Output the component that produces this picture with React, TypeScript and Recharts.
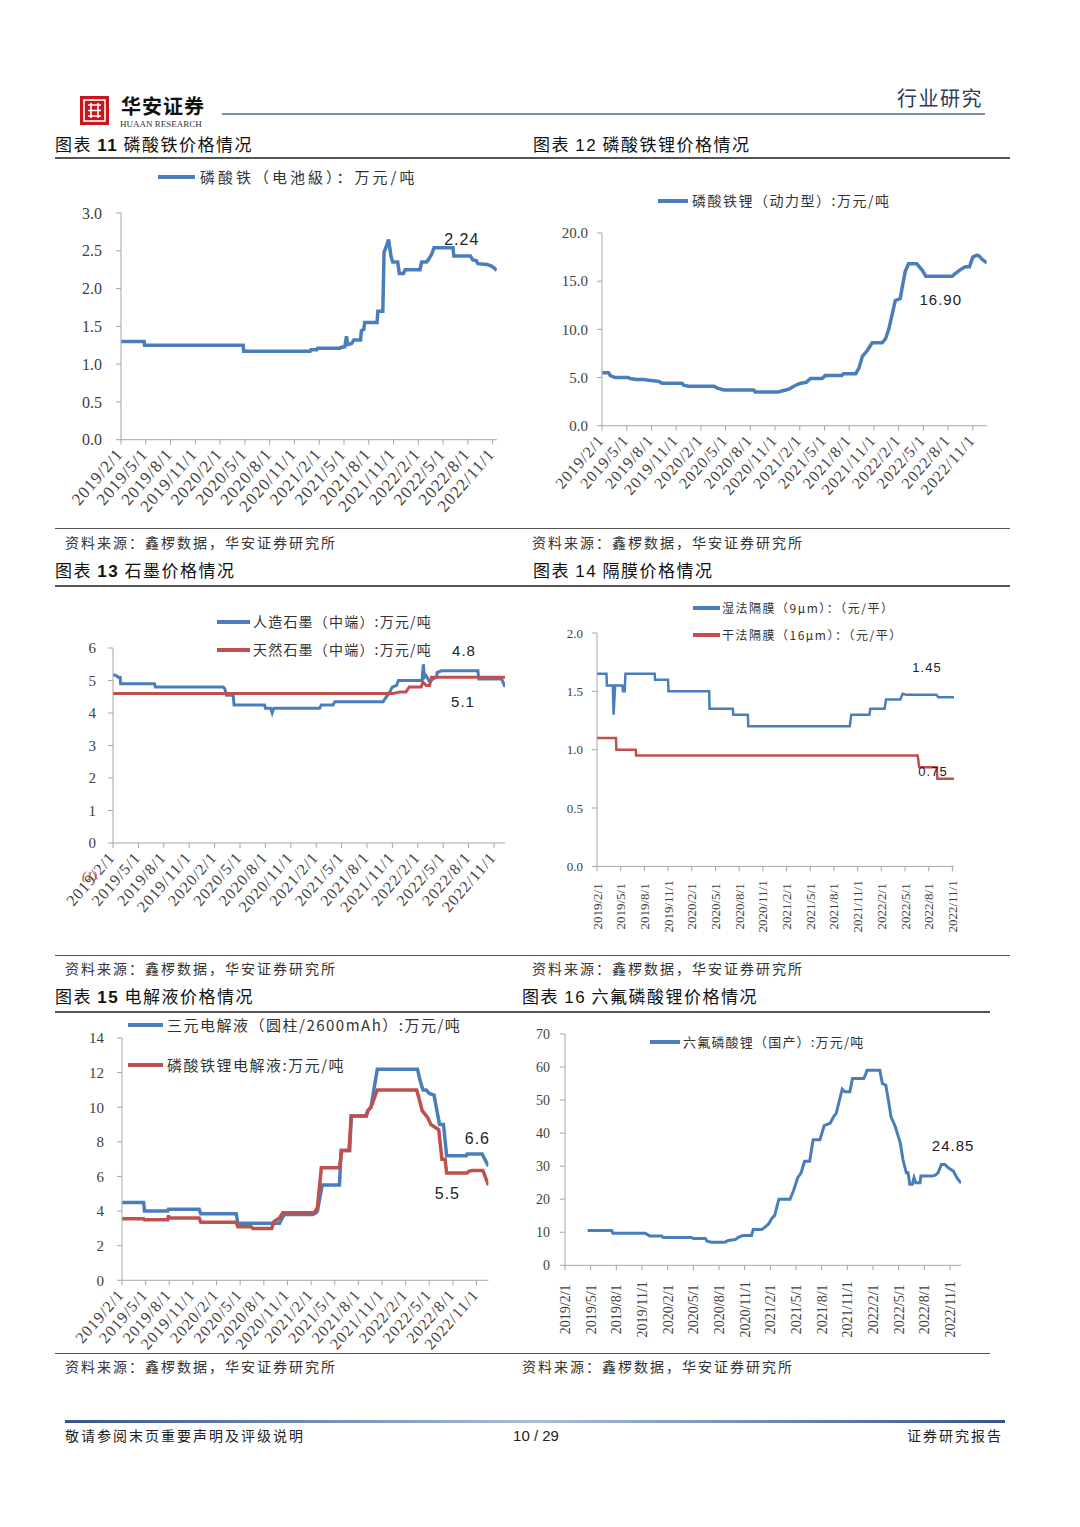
import React from "react"
import { Line, LineChart, XAxis, YAxis } from "recharts"

// x values are months counted from 2019/2/1
const dateTicks = [
  "2019/2/1", "2019/5/1", "2019/8/1", "2019/11/1",
  "2020/2/1", "2020/5/1", "2020/8/1", "2020/11/1",
  "2021/2/1", "2021/5/1", "2021/8/1", "2021/11/1",
  "2022/2/1", "2022/5/1", "2022/8/1", "2022/11/1",
]
const tickMonths = dateTicks.map((_, i) => i * 3)

// 图表11 磷酸铁
const fePo4Month = [0, 2.8, 2.85, 14.8, 14.85, 22.9, 23.0, 23.7, 23.8, 26.5, 26.6, 27.1, 27.3, 27.45, 27.9, 28.2, 29.0, 29.1, 29.4, 29.5, 31.0, 31.1, 31.7, 31.85, 32.1, 32.4, 32.7, 32.9, 33.5, 33.7, 34.2, 34.4, 36.2, 36.4, 37.0, 37.2, 37.6, 37.9, 40.2, 40.3, 42.3, 42.6, 43.0, 43.2, 44.3, 44.8, 45.1, 45.5]
const fePo4Price = [1.30, 1.30, 1.25, 1.25, 1.17, 1.17, 1.19, 1.19, 1.21, 1.21, 1.22, 1.23, 1.37, 1.26, 1.27, 1.32, 1.32, 1.44, 1.46, 1.55, 1.55, 1.70, 1.70, 2.48, 2.55, 2.65, 2.42, 2.35, 2.35, 2.20, 2.20, 2.25, 2.25, 2.35, 2.35, 2.38, 2.45, 2.54, 2.54, 2.43, 2.43, 2.38, 2.37, 2.33, 2.32, 2.30, 2.28, 2.24]

// 图表12 磷酸铁锂
const lfpMonth = [0, 0.8, 1.0, 1.6, 3.2, 3.4, 4.2, 5.0, 5.9, 6.9, 7.3, 9.7, 9.9, 10.5, 13.6, 14.0, 14.8, 18.4, 18.6, 21.4, 21.8, 22.3, 22.7, 23.5, 24.1, 24.8, 25.3, 26.7, 27.1, 29.1, 29.3, 30.8, 31.2, 31.6, 32.2, 32.8, 34.0, 34.4, 34.8, 35.6, 36.2, 36.4, 36.8, 37.2, 38.2, 38.9, 39.3, 42.5, 42.9, 43.5, 44.1, 44.6, 45.0, 45.5, 45.8, 46.1, 46.7]
const lfpPrice = [5.5, 5.5, 5.2, 5.0, 5.0, 4.9, 4.8, 4.8, 4.7, 4.6, 4.4, 4.4, 4.2, 4.1, 4.1, 3.9, 3.7, 3.7, 3.5, 3.5, 3.6, 3.7, 3.8, 4.2, 4.4, 4.5, 4.9, 4.9, 5.2, 5.2, 5.4, 5.4, 6.0, 7.2, 7.8, 8.6, 8.6, 9.0, 10.0, 13.0, 13.2, 14.2, 16.0, 16.8, 16.8, 16.1, 15.5, 15.5, 15.8, 16.2, 16.5, 16.5, 17.5, 17.7, 17.6, 17.3, 16.9]

// 图表13 石墨
const artGraphiteMonth = [0, 0.4, 0.6, 0.85, 0.9, 4.9, 5.0, 13.0, 13.2, 13.4, 14.2, 14.3, 17.9, 18.0, 18.6, 18.8, 19.0, 24.4, 24.6, 26.0, 26.2, 31.9, 32.3, 32.6, 33.0, 33.5, 33.7, 36.5, 36.65, 36.8, 37.0, 37.4, 37.8, 38.2, 38.3, 38.8, 43.1, 43.2, 45.9, 46.3]
const artGraphitePrice = [5.18, 5.15, 5.1, 5.1, 4.9, 4.9, 4.8, 4.8, 4.75, 4.55, 4.55, 4.25, 4.25, 4.15, 4.15, 4.0, 4.15, 4.15, 4.25, 4.25, 4.35, 4.35, 4.5, 4.6, 4.8, 4.85, 5.0, 5.0, 5.5, 5.1, 5.15, 4.95, 5.05, 5.1, 5.25, 5.3, 5.3, 5.05, 5.05, 4.8]
const natGraphiteMonth = [0, 33.1, 33.9, 34.6, 35.0, 36.4, 36.6, 37.0, 37.4, 37.6, 46.3]
const natGraphitePrice = [4.6, 4.6, 4.65, 4.65, 4.8, 4.8, 4.95, 4.85, 4.85, 5.1, 5.1]

// 图表14 隔膜
const wetSepMonth = [0, 1.2, 1.25, 2.0, 2.1, 2.3, 3.2, 3.3, 3.5, 3.6, 7.3, 7.35, 9.0, 9.05, 14.2, 14.25, 17.2, 17.25, 19.1, 19.15, 32.0, 32.2, 34.5, 34.6, 36.4, 36.6, 38.4, 38.7, 39.2, 43.0, 43.2, 45.2]
const wetSepPrice = [1.65, 1.65, 1.55, 1.55, 1.3, 1.55, 1.55, 1.5, 1.5, 1.65, 1.65, 1.6, 1.6, 1.5, 1.5, 1.35, 1.35, 1.3, 1.3, 1.2, 1.2, 1.3, 1.3, 1.35, 1.35, 1.43, 1.43, 1.48, 1.47, 1.47, 1.45, 1.45]
const drySepMonth = [0, 2.4, 2.45, 4.9, 4.95, 40.6, 40.8, 43.0, 43.1, 45.2]
const drySepPrice = [1.1, 1.1, 1.0, 1.0, 0.95, 0.95, 0.85, 0.85, 0.75, 0.75]

// 图表15 电解液
const nmcElecMonth = [0, 2.75, 2.85, 5.8, 5.9, 9.8, 10.0, 14.5, 14.7, 20.0, 20.2, 20.6, 24.2, 24.6, 24.8, 25.4, 27.6, 27.8, 28.9, 29.1, 31.0, 31.2, 31.6, 32.4, 37.5, 37.8, 38.2, 38.6, 39.0, 39.6, 40.3, 40.8, 41.2, 43.7, 43.8, 45.7, 46.5]
const nmcElecPrice = [4.5, 4.5, 4.0, 4.0, 4.1, 4.1, 3.85, 3.85, 3.3, 3.3, 3.5, 3.8, 3.8, 3.9, 4.0, 5.5, 5.5, 7.5, 7.5, 9.5, 9.5, 9.8, 10.0, 12.2, 12.2, 11.6, 11.0, 11.0, 10.8, 10.7, 9.0, 9.0, 7.2, 7.2, 7.3, 7.3, 6.6]
const lfpElecMonth = [0, 2.75, 2.85, 5.8, 5.9, 6.0, 9.8, 10.0, 14.5, 14.7, 16.4, 16.6, 19.0, 19.3, 20.0, 20.4, 24.4, 24.8, 25.3, 27.6, 27.9, 28.8, 29.1, 31.0, 31.2, 31.6, 32.4, 37.4, 37.7, 38.1, 38.8, 39.2, 40.2, 40.6, 41.0, 41.2, 43.8, 44.0, 44.5, 45.8, 46.5]
const lfpElecPrice = [3.55, 3.55, 3.5, 3.5, 3.75, 3.6, 3.6, 3.35, 3.35, 3.1, 3.1, 3.0, 3.0, 3.4, 3.6, 3.9, 3.9, 4.2, 6.5, 6.5, 7.5, 7.5, 9.5, 9.5, 9.8, 10.0, 11.0, 11.0, 10.5, 9.8, 9.4, 9.0, 8.7, 7.0, 7.0, 6.2, 6.2, 6.3, 6.35, 6.35, 5.5]

// 图表16 六氟磷酸锂
const lipf6Month = [2.65, 5.45, 5.6, 9.35, 9.7, 9.9, 11.3, 11.5, 14.8, 15.0, 16.4, 16.6, 17.1, 18.7, 19.1, 19.9, 20.3, 20.8, 21.8, 22.0, 23.0, 23.2, 23.8, 24.2, 24.5, 25.0, 26.3, 26.7, 27.2, 27.6, 28.0, 28.6, 29.0, 29.8, 30.3, 31.0, 31.4, 31.7, 32.4, 32.7, 33.3, 33.6, 34.9, 35.1, 35.3, 36.8, 37.1, 37.5, 37.8, 38.1, 38.6, 39.2, 39.5, 39.9, 40.1, 40.3, 40.6, 40.8, 41.0, 41.5, 41.6, 42.9, 43.3, 43.6, 44.0, 44.4, 44.8, 45.4, 45.8, 46.3]
const lipf6Price = [10.5, 10.5, 9.7, 9.7, 9.2, 8.9, 8.9, 8.4, 8.4, 8.1, 8.1, 7.3, 7.0, 7.0, 7.5, 7.8, 8.5, 9.0, 9.0, 10.8, 10.8, 11.2, 12.5, 14.3, 15.0, 20.0, 20.0, 22.5, 26.5, 28.0, 31.5, 31.5, 38.0, 38.0, 42.3, 43.0, 45.0, 46.0, 53.3, 52.5, 52.5, 56.5, 56.5, 57.5, 59.0, 59.0, 55.0, 54.5, 50.0, 45.0, 42.0, 37.0, 32.0, 28.0, 28.0, 24.5, 24.5, 26.5, 25.0, 25.0, 27.0, 27.0, 27.3, 28.0, 30.5, 30.5, 29.5, 28.5, 26.5, 24.85]

const BLUE = "#4a7ebb"
const RED = "#c0504d"
const AXIS = "#a6a6a6"
const CJK = '"Noto Sans CJK SC", sans-serif'
const SERIF = '"Liberation Serif", serif'
const SANS = '"Liberation Sans", Arial, sans-serif'

const toPoints = (ms: number[], vs: number[]) => ms.map((m, i) => ({ m, v: vs[i] }))

type EndLabel = { text: string; dx: number; dy: number; size: number }
type Series = { key: string; months: number[]; values: number[]; color: string; width: number; label?: EndLabel }

type PanelProps = {
  plot: { left: number; top: number; right: number; bottom: number }
  xEnd: number
  yMax: number
  yTicks: number[]
  yDigits: number
  yFont: number
  yGap: number
  xMode: "diag" | "vert"
  xFont: number
  xOffset: number
  series: Series[]
}

function endLabel(n: number, lab: EndLabel) {
  return (p: any) => {
    if (p.index !== n - 1) return <g />
    return (
      <text
        x={p.x + lab.dx}
        y={p.y + lab.dy}
        textAnchor="middle"
        dominantBaseline="central"
        fontFamily={SANS}
        fontSize={lab.size}
        letterSpacing={1}
        fill="#222"
      >
        {lab.text}
      </text>
    )
  }
}

function ChartPanel(props: PanelProps) {
  const { plot, xEnd, yMax, yTicks, yDigits, yFont, yGap, xMode, xFont, xOffset, series } = props
  const yw = 60
  const xh = 90
  const mt = 12
  const mr = 24
  const boxLeft = plot.left - yw
  const boxTop = plot.top - mt
  const width = plot.right + mr - boxLeft
  const height = plot.bottom + xh - boxTop

  const xTick = (p: any) => {
    const label = dateTicks[Math.round(p.payload.value / 3)]
    if (xMode === "diag") {
      return (
        <text
          transform={`translate(${p.x + 3},${p.y + xOffset}) rotate(-49)`}
          textAnchor="end"
          fontFamily={SERIF}
          fontSize={xFont}
          letterSpacing={1}
          fill="#404040"
        >
          {label}
        </text>
      )
    }
    return (
      <text
        transform={`translate(${p.x + xFont * 0.35},${p.y + xOffset}) rotate(-90)`}
        textAnchor="middle"
        fontFamily={SERIF}
        fontSize={xFont}
        fill="#404040"
      >
        {label}
      </text>
    )
  }

  return (
    <div style={{ position: "absolute", left: boxLeft, top: boxTop }}>
      <LineChart width={width} height={height} margin={{ top: mt, right: mr, left: 0, bottom: 0 }}>
        <XAxis
          dataKey="m"
          type="number"
          domain={[0, xEnd]}
          ticks={tickMonths}
          interval={0}
          height={xh}
          tick={xTick}
          tickSize={5}
          stroke={AXIS}
          allowDataOverflow
        />
        <YAxis
          type="number"
          domain={[0, yMax]}
          ticks={yTicks}
          interval={0}
          width={yw}
          tickSize={5}
          tickMargin={yGap}
          stroke={AXIS}
          tick={{ fontFamily: SERIF, fontSize: yFont, fill: "#404040" }}
          tickFormatter={(v: number) => v.toFixed(yDigits)}
        />
        {series.map((s) => (
          <Line
            key={s.key}
            data={toPoints(s.months, s.values)}
            dataKey="v"
            type="linear"
            stroke={s.color}
            strokeWidth={s.width}
            dot={false}
            activeDot={false}
            isAnimationActive={false}
            label={s.label ? endLabel(s.months.length, s.label) : undefined}
          />
        ))}
      </LineChart>
    </div>
  )
}

type LegendItem = { text: string; color: string; y: number }

function PanelLegend({ x1, x2, tx, size, spacing, items }: { x1: number; x2: number; tx: number; size: number; spacing: number; items: LegendItem[] }) {
  return (
    <>
      {items.map((it) => (
        <React.Fragment key={it.text}>
          <div style={{ position: "absolute", left: x1, top: it.y - 2, width: x2 - x1, height: 4, background: it.color }} />
          <div
            style={{
              position: "absolute",
              left: tx,
              top: it.y - size * 0.62,
              fontFamily: CJK,
              fontSize: size,
              letterSpacing: spacing,
              lineHeight: 1.2,
              color: "#333",
              whiteSpace: "nowrap",
            }}
          >
            {it.text}
          </div>
        </React.Fragment>
      ))}
    </>
  )
}

function Txt({ x, y, size, children, bold, spacing = 0, anchor = "left", family = CJK, color = "#222" }: any) {
  const style: React.CSSProperties = {
    position: "absolute",
    top: y - size * 0.62,
    fontFamily: family,
    fontSize: size,
    fontWeight: bold ? 700 : 400,
    letterSpacing: spacing,
    lineHeight: 1.2,
    color,
    whiteSpace: "nowrap",
  }
  if (anchor === "left") style.left = x
  else if (anchor === "right") style.right = 1080 - x
  else {
    style.left = x - 200
    style.width = 400
    style.textAlign = "center"
  }
  return <div style={style}>{children}</div>
}

function HLine({ x1, x2, y, h = 1, color = "#777" }: any) {
  return <div style={{ position: "absolute", left: x1, top: y, width: x2 - x1, height: h, background: color }} />
}

function Title({ x, y, num, text, boldNum }: any) {
  return (
    <Txt x={x} y={y} size={17} spacing={1.5} color="#111">
      图表 <span style={{ fontFamily: SANS, fontWeight: boldNum ? 700 : 400 }}>{num}</span> {text}
    </Txt>
  )
}

const source = "资料来源：鑫椤数据，华安证券研究所"

export default function App() {
  return (
    <div style={{ position: "absolute", left: 0, top: 0, width: 1080, height: 1527, background: "#fff", overflow: "hidden" }}>
      {/* header */}
      <svg style={{ position: "absolute", left: 80, top: 96 }} width={29} height={29}>
        <rect x={0} y={0} width={29} height={29} fill="#c8161d" />
        <rect x={4} y={4} width={21} height={21} fill="none" stroke="#fff" strokeWidth={1.6} />
        <path d="M8 9 H21 M8 14.5 H21 M8 20 H21 M11 7 V22 M18 7 V22" stroke="#fff" strokeWidth={1.6} fill="none" />
      </svg>
      <Txt x={121} y={106} size={20} spacing={1} color="#111" bold>华安证券</Txt>
      <Txt x={120} y={125} size={9} family={SERIF} color="#333">HUAAN RESEARCH</Txt>
      <HLine x1={222} x2={985} y={113} h={1.5} color="#7d8fa8" />
      <Txt x={983} y={98} size={20} spacing={1.5} anchor="right" color="#2f3a55">行业研究</Txt>

      {/* row 1 */}
      <Title x={55} y={145} num="11" text="磷酸铁价格情况" boldNum />
      <Title x={533} y={145} num="12" text="磷酸铁锂价格情况" />
      <HLine x1={55} x2={1010} y={157} h={2} color="#555" />

      <PanelLegend x1={158} x2={195} tx={200} size={15} spacing={3} items={[{ text: "磷酸铁（电池級）：万元/吨", color: BLUE, y: 177 }]} />
      <ChartPanel
        plot={{ left: 121, top: 213.3, right: 496.8, bottom: 440 }}
        xEnd={45.5}
        yMax={3}
        yTicks={[0, 0.5, 1, 1.5, 2, 2.5, 3]}
        yDigits={1}
        yFont={16}
        yGap={14}
        xMode="diag"
        xFont={17}
        xOffset={8}
        series={[{ key: "fepo4", months: fePo4Month, values: fePo4Price, color: BLUE, width: 3.5, label: { text: "2.24", dx: -35, dy: -31, size: 16 } }]}
      />

      <PanelLegend x1={658} x2={688} tx={692} size={14} spacing={1.5} items={[{ text: "磷酸铁锂（动力型）:万元/吨", color: BLUE, y: 201 }]} />
      <ChartPanel
        plot={{ left: 601.7, top: 233.3, right: 986.5, bottom: 426 }}
        xEnd={46.7}
        yMax={20}
        yTicks={[0, 5, 10, 15, 20]}
        yDigits={1}
        yFont={15}
        yGap={9}
        xMode="diag"
        xFont={16}
        xOffset={8}
        series={[{ key: "lfp", months: lfpMonth, values: lfpPrice, color: BLUE, width: 3.5, label: { text: "16.90", dx: -46, dy: 37, size: 15 } }]}
      />

      <HLine x1={55} x2={1010} y={528} h={1} color="#555" />
      <Txt x={65} y={543} size={14} spacing={2} color="#333">{source}</Txt>
      <Txt x={532} y={543} size={14} spacing={2} color="#333">{source}</Txt>

      {/* row 2 */}
      <Title x={55} y={571} num="13" text="石墨价格情况" boldNum />
      <Title x={533} y={571} num="14" text="隔膜价格情况" />
      <HLine x1={55} x2={1010} y={585} h={1.5} color="#555" />

      <PanelLegend
        x1={217}
        x2={250}
        tx={253}
        size={14}
        spacing={1.2}
        items={[
          { text: "人造石墨（中端）:万元/吨", color: BLUE, y: 622 },
          { text: "天然石墨（中端）:万元/吨", color: RED, y: 650 },
        ]}
      />
      <ChartPanel
        plot={{ left: 113.3, top: 648.3, right: 505.3, bottom: 843.3 }}
        xEnd={46.3}
        yMax={6}
        yTicks={[0, 1, 2, 3, 4, 5, 6]}
        yDigits={0}
        yFont={15}
        yGap={12}
        xMode="diag"
        xFont={16}
        xOffset={8}
        series={[
          { key: "art", months: artGraphiteMonth, values: artGraphitePrice, color: BLUE, width: 3, label: { text: "4.8", dx: -41, dy: -37, size: 15 } },
          { key: "nat", months: natGraphiteMonth, values: natGraphitePrice, color: RED, width: 3, label: { text: "5.1", dx: -42, dy: 24, size: 15 } },
        ]}
      />
      <Txt x={82} y={876} size={13} family={SERIF} color="#d03030">
        <i>(1)</i>
      </Txt>

      <PanelLegend
        x1={693}
        x2={720}
        tx={722}
        size={12}
        spacing={1.5}
        items={[
          { text: "湿法隔膜（9μm）：（元/平）", color: BLUE, y: 608 },
          { text: "干法隔膜（16μm）：（元/平）", color: RED, y: 635 },
        ]}
      />
      <ChartPanel
        plot={{ left: 597.3, top: 633.3, right: 954.3, bottom: 866.7 }}
        xEnd={45.2}
        yMax={2}
        yTicks={[0, 0.5, 1, 1.5, 2]}
        yDigits={1}
        yFont={13}
        yGap={9}
        xMode="vert"
        xFont={13}
        xOffset={33}
        series={[
          { key: "wet", months: wetSepMonth, values: wetSepPrice, color: BLUE, width: 2.5, label: { text: "1.45", dx: -27, dy: -30, size: 13 } },
          { key: "dry", months: drySepMonth, values: drySepPrice, color: RED, width: 2.5, label: { text: "0.75", dx: -21, dy: -7, size: 13 } },
        ]}
      />

      <HLine x1={55} x2={1010} y={955} h={1} color="#555" />
      <Txt x={65} y={969} size={14} spacing={2} color="#333">{source}</Txt>
      <Txt x={532} y={969} size={14} spacing={2} color="#333">{source}</Txt>

      {/* row 3 */}
      <Title x={55} y={997} num="15" text="电解液价格情况" boldNum />
      <Title x={522} y={997} num="16" text="六氟磷酸锂价格情况" />
      <HLine x1={55} x2={990} y={1011} h={1.5} color="#555" />

      <PanelLegend
        x1={128}
        x2={163}
        tx={167}
        size={15}
        spacing={1.5}
        items={[
          { text: "三元电解液（圆柱/2600mAh）:万元/吨", color: BLUE, y: 1025 },
          { text: "磷酸铁锂电解液:万元/吨", color: RED, y: 1065 },
        ]}
      />
      <ChartPanel
        plot={{ left: 122, top: 1037.7, right: 488.4, bottom: 1280 }}
        xEnd={46.5}
        yMax={14}
        yTicks={[0, 2, 4, 6, 8, 10, 12, 14]}
        yDigits={0}
        yFont={15}
        yGap={13}
        xMode="diag"
        xFont={16}
        xOffset={8}
        series={[
          { key: "nmc", months: nmcElecMonth, values: nmcElecPrice, color: BLUE, width: 3.5, label: { text: "6.6", dx: -11, dy: -28, size: 16 } },
          { key: "lfpe", months: lfpElecMonth, values: lfpElecPrice, color: RED, width: 3.5, label: { text: "5.5", dx: -41, dy: 8, size: 16 } },
        ]}
      />

      <PanelLegend x1={650} x2={680} tx={683} size={13} spacing={1.2} items={[{ text: "六氟磷酸锂（国产）:万元/吨", color: BLUE, y: 1042 }]} />
      <ChartPanel
        plot={{ left: 565, top: 1034, right: 961.1, bottom: 1265.3 }}
        xEnd={46.3}
        yMax={70}
        yTicks={[0, 10, 20, 30, 40, 50, 60, 70]}
        yDigits={0}
        yFont={14}
        yGap={10}
        xMode="vert"
        xFont={14}
        xOffset={37}
        series={[{ key: "lipf6", months: lipf6Month, values: lipf6Price, color: BLUE, width: 3, label: { text: "24.85", dx: -8, dy: -38, size: 15 } }]}
      />

      <HLine x1={55} x2={990} y={1353} h={1} color="#555" />
      <Txt x={65} y={1367} size={14} spacing={2} color="#333">{source}</Txt>
      <Txt x={522} y={1367} size={14} spacing={2} color="#333">{source}</Txt>

      {/* footer */}
      <div
        style={{
          position: "absolute",
          left: 65,
          top: 1420,
          width: 940,
          height: 3,
          background: "linear-gradient(to right, #34548a, #a9bedb 50%, #34548a)",
        }}
      />
      <Txt x={65} y={1436} size={14} spacing={2} color="#222">敬请参阅末页重要声明及评级说明</Txt>
      <Txt x={536} y={1436} size={15} family={SANS} anchor="center" color="#222">10 / 29</Txt>
      <Txt x={1003} y={1436} size={14} spacing={2} anchor="right" color="#222">证券研究报告</Txt>
    </div>
  )
}
